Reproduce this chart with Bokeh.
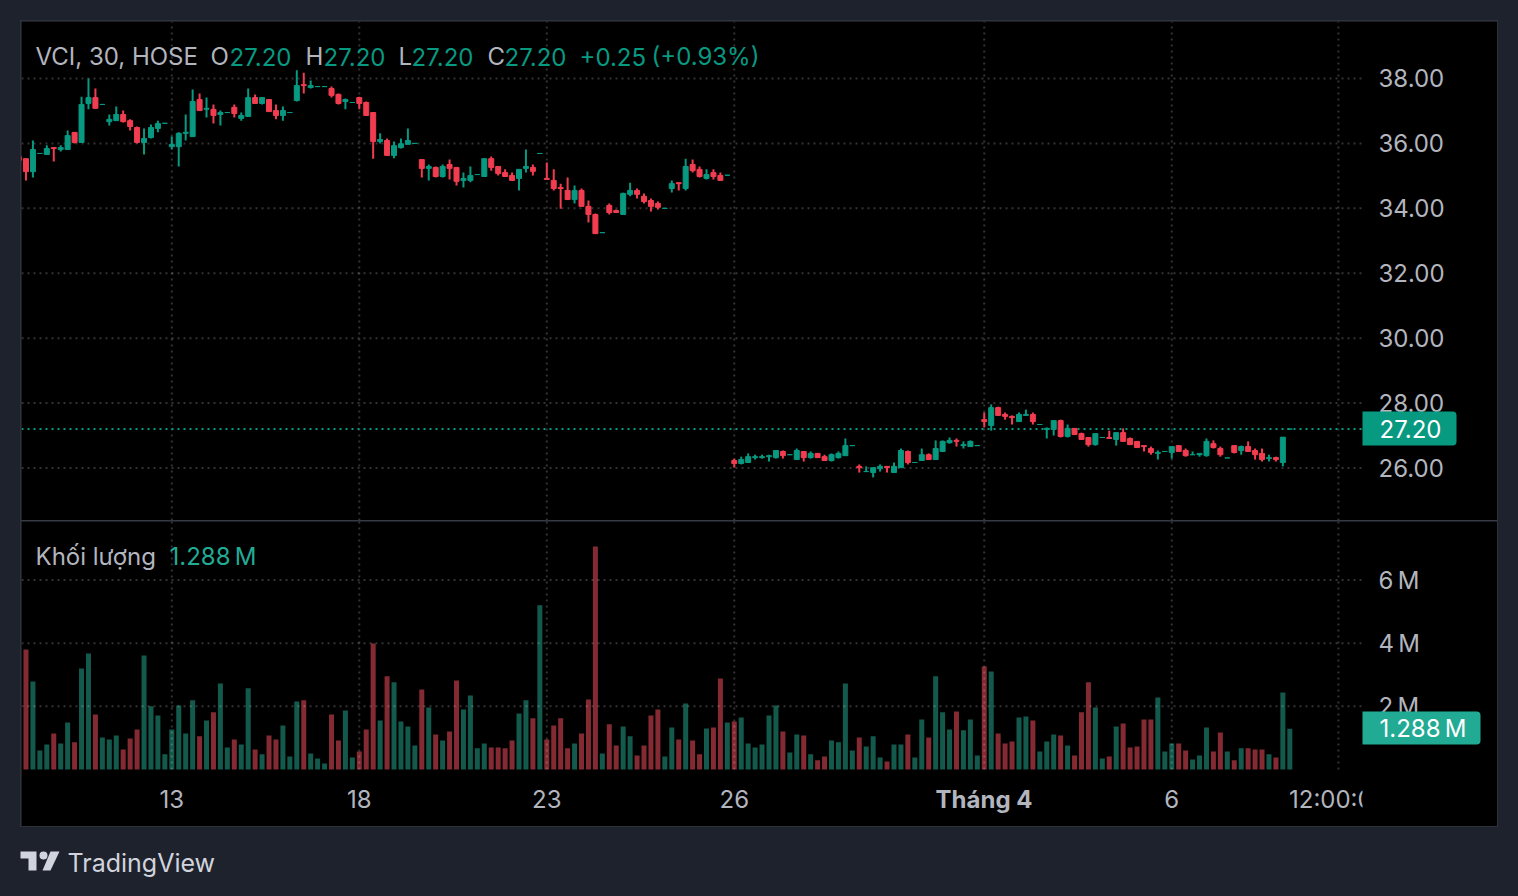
from bokeh.embed import file_html
from bokeh.layouts import column
from bokeh.models import (BoxAnnotation, ColumnDataSource, FixedTicker, Label,
                          NumeralTickFormatter, Range1d)
from bokeh.plotting import figure
from bokeh.resources import INLINE

opens = [35.60, 35.53, 35.13, 35.69, 35.66, 35.87, 35.81, 35.81, 36.34, 36.03,
         37.23, 37.41, 37.20, 36.67, 36.70, 36.89, 36.70, 36.49, 36.03, 36.18,
         36.46, 36.62, 35.90, 35.90, 36.31, 36.21, 37.35, 37.05, 37.05, 36.89,
         36.95, 37.11, 36.77, 36.83, 37.41, 37.23, 37.35, 37.01, 36.86, 36.95,
         37.32, 37.81, 37.72, 37.75, 37.75, 37.69, 37.51, 37.29, 37.26, 37.41,
         37.26, 36.95, 36.06, 36.09, 35.63, 35.87, 35.97, 36.00, 35.50, 35.23,
         35.26, 34.98, 35.35, 35.26, 34.86, 34.86, 35.04, 34.98, 35.53, 35.29,
         35.10, 35.01, 34.92, 35.23, 35.26, 35.69, 34.92, 34.86, 34.64, 34.55,
         34.27, 34.55, 34.06, 33.81, 33.25, 34.09, 33.93, 33.81, 34.43, 34.55,
         34.37, 34.24, 34.15, 34.00, 34.61, 34.79, 34.61, 35.35, 35.20, 34.92,
         35.10, 35.01, 35.02, 26.23, 26.14, 26.17, 26.32, 26.32, 26.35, 26.32,
         26.51, 26.41, 26.26, 26.51, 26.32, 26.45, 26.35, 26.23, 26.32, 26.38,
         26.69, 26.05, 25.89, 25.86, 25.98, 26.05, 25.86, 26.01, 26.51, 26.17,
         26.23, 26.41, 26.26, 26.51, 26.78, 26.85, 26.69, 26.66, 26.69, 27.49,
         27.31, 27.86, 27.65, 27.59, 27.43, 27.62, 27.65, 27.34, 27.19, 27.19,
         27.46, 26.97, 27.22, 27.06, 26.94, 26.72, 26.94, 26.94, 26.88, 27.09,
         26.91, 26.82, 26.69, 26.60, 26.45, 26.51, 26.48, 26.69, 26.54, 26.41,
         26.41, 26.38, 26.75, 26.60, 26.31, 26.69, 26.54, 26.66, 26.54, 26.45,
         26.29, 26.32, 26.17, 27.20]
highs = [35.60, 35.53, 36.09, 35.69, 35.94, 35.87, 35.94, 36.40, 36.34, 37.44,
         38.00, 37.69, 37.20, 36.89, 37.14, 37.01, 36.74, 36.52, 36.46, 36.58,
         36.70, 36.62, 36.21, 36.34, 36.89, 37.66, 37.54, 37.41, 37.20, 37.01,
         36.95, 37.20, 36.95, 37.69, 37.51, 37.41, 37.35, 37.20, 37.14, 36.95,
         38.25, 38.18, 37.94, 37.75, 37.75, 37.75, 37.54, 37.38, 37.26, 37.44,
         37.29, 36.95, 36.31, 36.15, 36.06, 36.15, 36.46, 36.00, 35.50, 35.35,
         35.29, 35.35, 35.50, 35.26, 35.10, 35.29, 35.04, 35.53, 35.60, 35.29,
         35.20, 35.10, 35.20, 35.81, 35.35, 35.69, 35.41, 35.20, 34.76, 34.95,
         34.70, 34.61, 34.24, 33.84, 33.25, 34.15, 33.96, 34.48, 34.79, 34.61,
         34.46, 34.30, 34.21, 34.00, 34.86, 34.79, 35.53, 35.50, 35.29, 35.20,
         35.20, 35.10, 35.02, 26.29, 26.35, 26.45, 26.41, 26.41, 26.41, 26.54,
         26.54, 26.41, 26.60, 26.51, 26.51, 26.45, 26.41, 26.45, 26.51, 26.91,
         26.69, 26.11, 26.05, 26.01, 26.11, 26.05, 26.17, 26.60, 26.54, 26.17,
         26.60, 26.45, 26.85, 26.85, 26.94, 26.91, 26.82, 26.85, 26.69, 27.71,
         27.96, 27.89, 27.71, 27.62, 27.71, 27.80, 27.71, 27.34, 27.25, 27.46,
         27.49, 27.34, 27.22, 27.09, 26.94, 27.06, 26.94, 27.15, 27.09, 27.22,
         26.94, 26.82, 26.69, 26.66, 26.54, 26.51, 26.66, 26.69, 26.60, 26.51,
         26.45, 26.91, 26.85, 26.66, 26.31, 26.69, 26.69, 26.82, 26.60, 26.60,
         26.41, 26.35, 26.94, 27.20]
lows = [35.47, 34.86, 34.95, 35.69, 35.66, 35.44, 35.75, 35.81, 36.00, 36.03,
        37.05, 37.08, 37.20, 36.55, 36.70, 36.64, 36.40, 36.00, 35.66, 36.15,
        36.34, 36.62, 35.81, 35.29, 36.09, 36.21, 37.01, 36.80, 36.61, 36.55,
        36.95, 36.80, 36.70, 36.83, 37.23, 37.20, 36.98, 36.74, 36.70, 36.95,
        37.29, 37.54, 37.69, 37.75, 37.75, 37.41, 37.20, 37.05, 37.26, 37.05,
        36.86, 35.53, 36.00, 35.63, 35.54, 35.84, 35.97, 36.00, 34.95, 34.86,
        34.95, 34.95, 34.89, 34.70, 34.64, 34.80, 35.04, 34.98, 35.16, 35.01,
        34.98, 34.86, 34.55, 35.10, 35.01, 35.69, 34.89, 34.55, 33.99, 34.27,
        34.15, 34.06, 33.56, 33.22, 33.25, 33.81, 33.87, 33.81, 34.37, 34.30,
        34.15, 33.90, 33.96, 34.00, 34.49, 34.55, 34.55, 35.10, 34.95, 34.89,
        34.89, 34.86, 35.02, 26.01, 26.11, 26.17, 26.26, 26.29, 26.20, 26.29,
        26.29, 26.41, 26.26, 26.20, 26.29, 26.32, 26.23, 26.20, 26.29, 26.38,
        26.69, 25.86, 25.89, 25.71, 25.89, 25.86, 25.86, 26.01, 26.11, 26.17,
        26.23, 26.26, 26.26, 26.51, 26.75, 26.66, 26.60, 26.66, 26.69, 27.25,
        27.15, 27.62, 27.49, 27.34, 27.43, 27.62, 27.34, 27.34, 26.91, 27.00,
        26.94, 26.94, 27.03, 26.88, 26.66, 26.69, 26.94, 26.91, 26.69, 26.82,
        26.72, 26.63, 26.51, 26.41, 26.26, 26.51, 26.29, 26.51, 26.35, 26.41,
        26.35, 26.35, 26.60, 26.35, 26.31, 26.45, 26.41, 26.51, 26.26, 26.20,
        26.20, 26.20, 26.05, 27.20]
closes = [35.47, 35.13, 35.81, 35.69, 35.84, 35.84, 35.87, 36.24, 36.03, 37.20,
          37.41, 37.08, 37.20, 36.74, 36.89, 36.67, 36.52, 36.03, 36.15, 36.49,
          36.61, 36.62, 35.97, 36.31, 36.34, 37.29, 37.01, 37.08, 36.86, 36.95,
          36.95, 36.92, 36.86, 37.41, 37.23, 37.41, 36.98, 36.86, 37.01, 36.95,
          37.78, 37.78, 37.78, 37.75, 37.75, 37.48, 37.23, 37.35, 37.26, 37.23,
          36.86, 36.06, 36.12, 35.63, 35.93, 35.99, 36.09, 36.00, 35.23, 35.29,
          34.98, 35.29, 35.23, 34.83, 34.92, 35.01, 35.04, 35.53, 35.26, 35.07,
          34.98, 34.86, 35.20, 35.29, 35.14, 35.69, 34.89, 34.61, 34.61, 34.27,
          34.55, 34.06, 33.81, 33.22, 33.25, 33.87, 33.87, 34.46, 34.55, 34.43,
          34.21, 34.06, 34.03, 34.00, 34.76, 34.76, 35.29, 35.16, 34.98, 35.04,
          34.98, 34.86, 35.02, 26.14, 26.26, 26.35, 26.35, 26.35, 26.38, 26.54,
          26.38, 26.41, 26.54, 26.32, 26.45, 26.32, 26.23, 26.41, 26.45, 26.69,
          26.69, 26.01, 25.89, 26.01, 26.05, 26.01, 26.05, 26.54, 26.17, 26.17,
          26.41, 26.26, 26.60, 26.82, 26.85, 26.82, 26.72, 26.82, 26.69, 27.43,
          27.86, 27.62, 27.59, 27.55, 27.65, 27.65, 27.43, 27.34, 27.22, 27.46,
          26.97, 27.22, 27.03, 26.88, 26.72, 27.06, 26.94, 26.91, 27.09, 26.82,
          26.72, 26.63, 26.66, 26.48, 26.48, 26.51, 26.66, 26.51, 26.38, 26.41,
          26.45, 26.82, 26.63, 26.41, 26.31, 26.48, 26.66, 26.51, 26.41, 26.26,
          26.32, 26.26, 26.95, 27.20]
volumes = [2.79, 3.80, 2.79, 0.60, 0.79, 1.14, 0.82, 1.49, 0.86, 3.20,
           3.67, 1.74, 1.01, 0.95, 1.08, 0.63, 0.98, 1.27, 3.61, 2.00,
           1.71, 0.48, 1.27, 2.03, 1.14, 2.19, 1.05, 1.55, 1.81, 2.72,
           0.70, 0.95, 0.79, 2.57, 0.63, 0.48, 1.08, 0.95, 1.39, 0.41,
           2.15, 2.19, 0.51, 0.35, 0.19, 1.74, 0.92, 1.87, 0.38, 0.57,
           1.27, 3.99, 1.55, 2.95, 2.76, 1.52, 1.36, 0.76, 2.53, 1.96,
           1.11, 0.92, 1.20, 2.82, 1.90, 2.34, 0.67, 0.82, 0.70, 0.70,
           0.67, 0.92, 1.77, 2.19, 1.62, 5.20, 0.95, 1.39, 1.62, 0.67,
           0.82, 1.14, 2.22, 7.06, 0.51, 1.43, 0.76, 1.36, 1.05, 0.44,
           0.76, 1.71, 1.90, 0.41, 1.33, 0.95, 2.09, 0.92, 0.48, 1.30,
           1.33, 2.88, 1.49, 1.52, 1.65, 0.82, 0.70, 0.79, 1.71, 2.03,
           1.20, 0.54, 1.11, 1.08, 0.48, 0.29, 0.41, 0.92, 0.86, 2.72,
           0.60, 1.01, 0.73, 1.05, 0.38, 0.25, 0.79, 0.79, 1.11, 0.38,
           1.58, 1.01, 2.95, 1.81, 1.27, 1.84, 1.24, 1.58, 0.44, 3.26,
           3.10, 1.14, 0.82, 0.89, 1.65, 1.68, 1.55, 0.57, 0.89, 1.11,
           1.08, 0.76, 0.44, 1.81, 2.76, 1.96, 0.35, 0.41, 1.36, 1.46,
           0.70, 0.73, 1.58, 1.58, 2.28, 0.57, 0.82, 0.82, 0.60, 0.32,
           0.44, 1.33, 0.57, 1.17, 0.57, 0.29, 0.67, 0.67, 0.63, 0.63,
           0.48, 0.38, 2.44, 1.288]

price_ticks = [26, 28, 30, 32, 34, 36, 38]
volume_ticks = [2, 4, 6]
volume_tick_labels = {2: "2\u202fM", 4: "4\u202fM", 6: "6\u202fM"}
date_ticks = [22, 49, 76, 103, 166, 190]
date_labels = {22: "13", 49: "18", 76: "23", 103: "26", 166: "6", 190: "12:00:00"}
month_tick = 139
last_price = 27.20

GREEN = "#089981"
RED = "#f23d51"
TEXT = "#b2b5be"
PAGE = "#1e222d"
FONT = "Inter"
TEXT_SIZE = "24px"

# the frames run under the scales, so badges and labels there are not clipped
X_START, X_SCALE, X_END = 0.355, 193.47, 212.91

bars = ColumnDataSource(dict(
    i=list(range(len(opens))), o=opens, h=highs, l=lows, c=closes, v=volumes,
    candle=[GREEN if c >= o else RED for o, c in zip(opens, closes)],
    bar=["#135a4c" if c >= o else "#832a33" for o, c in zip(opens, closes)],
))
x_range = Range1d(X_START, X_END)


def pane(height, y_range, ticks, x_axis=None):
    p = figure(width=1476, height=height, x_range=x_range, y_range=y_range,
               output_backend="svg", toolbar_location=None,
               x_axis_location=x_axis, y_axis_location="right",
               min_border=0, background_fill_color="black",
               border_fill_color="black", outline_line_color=None)
    p.grid.visible = False
    p.yaxis.fixed_location = X_SCALE
    p.yaxis.ticker = FixedTicker(ticks=ticks)
    p.yaxis.axis_line_color = None
    p.yaxis.major_tick_line_color = None
    p.yaxis.minor_tick_line_color = None
    p.yaxis.major_label_standoff = 10
    p.yaxis.major_label_text_color = TEXT
    p.yaxis.major_label_text_font = FONT
    p.yaxis.major_label_text_font_size = TEXT_SIZE
    return p


def dots(p, x0, y0, x1, y1, color="white", alpha=0.2):
    r = p.segment(x0, y0, x1, y1, line_color=color, line_alpha=alpha, line_width=2)
    r.glyph.line_dash = [2, 4]


def grid(p, ticks, bottom, top):
    xs = date_ticks + [month_tick]
    dots(p, xs, [bottom] * len(xs), xs, [top] * len(xs))
    dots(p, [X_START] * len(ticks), ticks, [X_SCALE] * len(ticks), ticks)


def text(p, x, y, s, color=TEXT, style="normal", align="left"):
    p.add_layout(Label(x=x, y=y, x_units="screen", y_units="screen", text=s,
                       text_color=color, text_font=FONT, text_font_size=TEXT_SIZE,
                       text_font_style=style, text_align=align,
                       text_baseline="middle"))


def box(p, left, right, top, bottom, color, radius=0):
    p.add_layout(BoxAnnotation(left=left, right=right, top=top, bottom=bottom,
                               left_units="screen", right_units="screen",
                               top_units="screen", bottom_units="screen",
                               fill_color=color, fill_alpha=1, line_color=None,
                               border_radius=(0, radius, radius, 0)))


# candles
price_range = Range1d(24.383, 39.755)
price = pane(499, price_range, price_ticks)
price.yaxis.formatter = NumeralTickFormatter(format="0.00")
grid(price, price_ticks, price_range.start, price_range.end)
dots(price, [X_START], [last_price], [X_SCALE], [last_price], GREEN, 1)
price.segment("i", "h", "i", "l", source=bars, color="candle", line_width=2)
price.vbar("i", 0.72, "o", "c", source=bars, fill_color="candle", line_color="candle", line_width=1)

text(price, 14, 464, "VCI, 30, HOSE")
for x, s, color in [(189, "O", TEXT), (208, "27.20", GREEN), (284, "H", TEXT), (302, "27.20", GREEN),
                    (377, "L", TEXT), (390, "27.20", GREEN), (466, "C", TEXT), (483, "27.20", GREEN),
                    (558, "+0.25", GREEN), (630, "(+0.93%)", GREEN)]:
    text(price, x, 464, s, color)

box(price, 1341, 1435, 109, 75, GREEN, 4)
text(price, 1358, 91.5, "27.20", "white")

# volume
volume_range = Range1d(-1.805, 7.853)
volume = pane(305, volume_range, volume_ticks, x_axis="below")
volume.yaxis.major_label_overrides = volume_tick_labels
volume.xaxis.fixed_location = 0
volume.xaxis.ticker = FixedTicker(ticks=date_ticks)
volume.xaxis.major_label_overrides = date_labels
volume.xaxis.axis_line_color = None
volume.xaxis.major_tick_line_color = None
volume.xaxis.minor_tick_line_color = None
volume.xaxis.major_label_standoff = 10
volume.xaxis.major_label_text_color = TEXT
volume.xaxis.major_label_text_font = FONT
volume.xaxis.major_label_text_font_size = TEXT_SIZE
volume.vbar("i", 0.72, 0, "v", source=bars, fill_color="bar", line_color=None)
grid(volume, volume_ticks, 0, volume_range.end)

text(volume, 14, 270, "Khối lượng")
text(volume, 148, 270, "1.288\u202fM", "#22ab94")
text(volume, 962.5, 27, "Tháng 4", style="bold", align="center")

# hides the tail of the last time label, the price scale cuts it there
box(volume, 1341, 1476, 57, 0, "black")
box(volume, 1341, 1459, 115, 82, "#22ab94", 4)
text(volume, 1358, 98, "1.288\u202fM", "white")

panel = column(price, volume, spacing=1, margin=(20, 0, 0, 20),
               styles={"background": "#363a45", "border": "1px solid #2e323d"})

# footer with the TradingView mark
footer = figure(width=1510, height=62, x_range=(0, 1510), y_range=(62, 0),
                x_axis_type=None, y_axis_type=None, output_backend="svg",
                toolbar_location=None, min_border=0, outline_line_color=None,
                background_fill_color=PAGE, border_fill_color=PAGE)
footer.grid.visible = False
footer.patch([20, 36, 36, 28, 28, 20], [24, 24, 43, 43, 31, 31], color="#d1d4dc", line_color=None)
footer.circle([43], [28], radius=4, color="#d1d4dc", line_color=None)
footer.patch([50, 59, 50, 42], [24, 24, 43, 43], color="#d1d4dc", line_color=None)
footer.add_layout(Label(x=67, y=27, x_units="screen", y_units="screen", text="TradingView",
                        text_color="#d1d4dc", text_font=FONT, text_font_size="25px",
                        text_baseline="middle"))

page = column(panel, footer, spacing=0)

html = file_html(page, INLINE)
html = html.replace("</head>", "<style>html,body{background:#1e222d}</style></head>", 1)
open("out.html", "w").write(html)
